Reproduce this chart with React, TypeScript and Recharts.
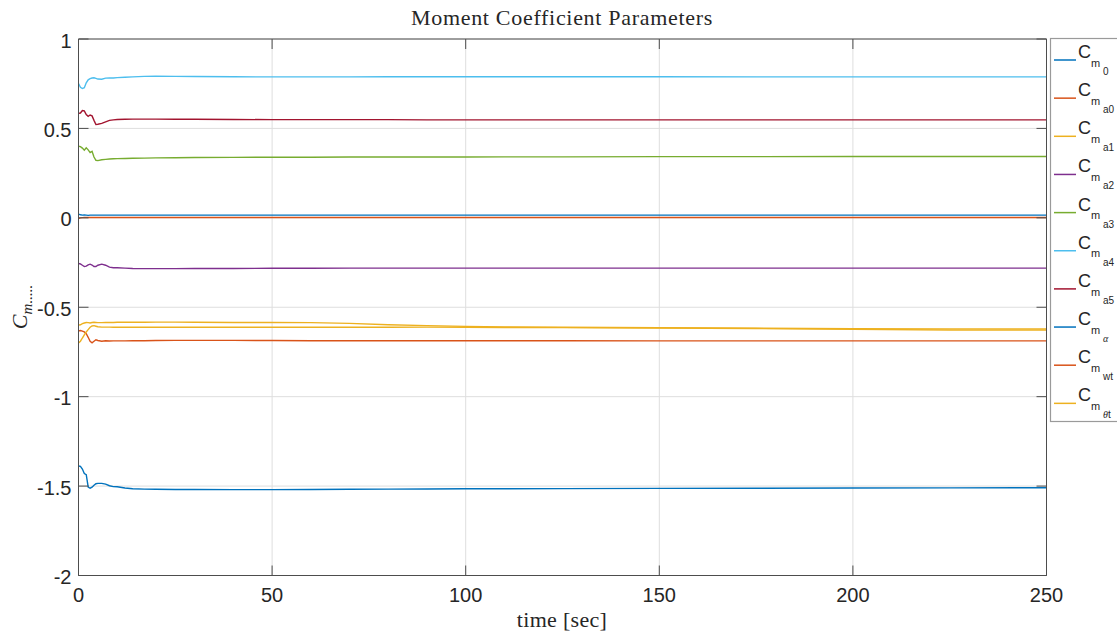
import React from 'react';
import { LineChart, Line, XAxis, YAxis, CartesianGrid } from 'recharts';

// Sample times [sec]
const time = [0, 0.5, 1, 1.5, 2, 2.5, 3, 3.5, 4, 4.5, 5, 6, 7, 8, 9, 10, 12, 14, 17, 20, 25, 30, 40, 50, 60, 70, 80, 90, 100, 110, 125, 150, 175, 200, 225, 250];

// Estimated moment coefficient parameters
const cm0 = [0.021, 0.017, 0.015, 0.016, 0.015, 0.014, 0.015, 0.015, 0.015, 0.015, 0.015, 0.015, 0.015, 0.015, 0.015, 0.015, 0.015, 0.015, 0.015, 0.015, 0.015, 0.015, 0.015, 0.015, 0.015, 0.015, 0.015, 0.015, 0.015, 0.015, 0.015, 0.015, 0.015, 0.015, 0.015, 0.015];
const cma0 = [-0.004, 0.0, 0.001, 0.002, 0.002, 0.002, 0.002, 0.002, 0.002, 0.002, 0.002, 0.002, 0.002, 0.002, 0.002, 0.002, 0.002, 0.002, 0.002, 0.002, 0.002, 0.002, 0.002, 0.002, 0.002, 0.002, 0.002, 0.002, 0.002, 0.002, 0.002, 0.002, 0.002, 0.002, 0.002, 0.002];
const cma1 = [-0.6, -0.598, -0.592, -0.588, -0.585, -0.586, -0.588, -0.585, -0.584, -0.585, -0.586, -0.586, -0.585, -0.585, -0.585, -0.584, -0.584, -0.584, -0.584, -0.583, -0.583, -0.584, -0.585, -0.585, -0.586, -0.59, -0.598, -0.603, -0.607, -0.61, -0.612, -0.615, -0.617, -0.62, -0.621, -0.622];
const cma2 = [-0.255, -0.258, -0.265, -0.272, -0.27, -0.263, -0.259, -0.264, -0.272, -0.272, -0.265, -0.259, -0.265, -0.276, -0.279, -0.279, -0.281, -0.283, -0.284, -0.284, -0.284, -0.283, -0.283, -0.282, -0.282, -0.281, -0.281, -0.281, -0.281, -0.281, -0.281, -0.281, -0.281, -0.281, -0.281, -0.281];
const cma3 = [0.4, 0.398, 0.39, 0.378, 0.392, 0.38, 0.365, 0.372, 0.34, 0.322, 0.32, 0.325, 0.327, 0.329, 0.33, 0.331, 0.332, 0.333, 0.334, 0.335, 0.336, 0.337, 0.338, 0.339, 0.339, 0.34, 0.34, 0.34, 0.34, 0.341, 0.341, 0.342, 0.342, 0.343, 0.343, 0.343];
const cma4 = [0.751, 0.73, 0.723, 0.728, 0.755, 0.772, 0.778, 0.782, 0.783, 0.78, 0.776, 0.775, 0.781, 0.782, 0.782, 0.784, 0.786, 0.788, 0.791, 0.792, 0.791, 0.79, 0.789, 0.788, 0.788, 0.788, 0.789, 0.789, 0.789, 0.789, 0.789, 0.789, 0.788, 0.788, 0.788, 0.788];
const cma5 = [0.584, 0.586, 0.6, 0.598, 0.578, 0.568, 0.575, 0.57, 0.545, 0.522, 0.523, 0.528, 0.537, 0.545, 0.548, 0.55, 0.551, 0.552, 0.552, 0.552, 0.551, 0.551, 0.55, 0.549, 0.549, 0.549, 0.549, 0.548, 0.548, 0.548, 0.548, 0.548, 0.548, 0.548, 0.548, 0.548];
const cmAlpha = [-1.388, -1.39, -1.405, -1.43, -1.436, -1.505, -1.512, -1.506, -1.495, -1.487, -1.485, -1.485, -1.489, -1.498, -1.503, -1.504, -1.511, -1.515, -1.517, -1.518, -1.519, -1.519, -1.52, -1.52, -1.519, -1.518, -1.517, -1.516, -1.515, -1.515, -1.514, -1.513, -1.512, -1.511, -1.51, -1.509];
const cmWt = [-0.632, -0.63, -0.633, -0.638, -0.648, -0.668, -0.69, -0.699, -0.69, -0.682, -0.686, -0.69, -0.687, -0.689, -0.688, -0.688, -0.688, -0.687, -0.687, -0.686, -0.685, -0.685, -0.685, -0.686, -0.687, -0.687, -0.687, -0.687, -0.687, -0.687, -0.687, -0.688, -0.688, -0.688, -0.688, -0.688];
const cmThetaT = [-0.7, -0.69, -0.672, -0.655, -0.638, -0.625, -0.612, -0.605, -0.603, -0.606, -0.609, -0.611, -0.611, -0.611, -0.612, -0.612, -0.612, -0.612, -0.612, -0.612, -0.612, -0.612, -0.612, -0.612, -0.612, -0.612, -0.612, -0.611, -0.612, -0.613, -0.614, -0.616, -0.619, -0.624, -0.627, -0.628];

const xTicks = [0, 50, 100, 150, 200, 250];
const yTicks = [-2, -1.5, -1, -0.5, 0, 0.5, 1];

const TITLE = 'Moment Coefficient Parameters';
const X_LABEL = 'time [sec]';

type Series = { key: string; values: number[]; color: string; sub: string; subItalic?: boolean };

const series: Series[] = [
  { key: 'cm0', values: cm0, color: '#0072BD', sub: '0' },
  { key: 'cma0', values: cma0, color: '#D95319', sub: 'a0' },
  { key: 'cma1', values: cma1, color: '#EDB120', sub: 'a1' },
  { key: 'cma2', values: cma2, color: '#7E2F8E', sub: 'a2' },
  { key: 'cma3', values: cma3, color: '#77AC30', sub: 'a3' },
  { key: 'cma4', values: cma4, color: '#4DBEEE', sub: 'a4' },
  { key: 'cma5', values: cma5, color: '#A2142F', sub: 'a5' },
  { key: 'cmAlpha', values: cmAlpha, color: '#0072BD', sub: 'α', subItalic: true },
  { key: 'cmWt', values: cmWt, color: '#D95319', sub: 'wt' },
  { key: 'cmThetaT', values: cmThetaT, color: '#EDB120', sub: 'θt' },
];

const data = time.map((t, i) => {
  const row: Record<string, number> = { t };
  series.forEach((s) => {
    row[s.key] = s.values[i];
  });
  return row;
});

const AXIS_COLOR = '#4d4d4d';
const TEXT_COLOR = '#262626';
const TICK_LEN = 10;
const SANS = '"Liberation Sans", Arial, Helvetica, sans-serif';
const SERIF = '"Liberation Serif", "Times New Roman", serif';

function BottomTick(props: any) {
  const { x, y, payload } = props;
  return (
    <g>
      <line x1={x} x2={x} y1={y} y2={y - TICK_LEN} stroke={AXIS_COLOR} strokeWidth={1} />
      <text x={x} y={y + 26} textAnchor="middle" fontSize={20} fill={TEXT_COLOR} fontFamily={SANS}>
        {String(payload.value)}
      </text>
    </g>
  );
}

function TopTick(props: any) {
  const { x, y } = props;
  return <line x1={x} x2={x} y1={y} y2={y + TICK_LEN} stroke={AXIS_COLOR} strokeWidth={1} />;
}

function LeftTick(props: any) {
  const { x, y, payload } = props;
  return (
    <g>
      <line x1={x} x2={x + TICK_LEN} y1={y} y2={y} stroke={AXIS_COLOR} strokeWidth={1} />
      <text x={x - 7} y={y + 8.5} textAnchor="end" fontSize={20} fill={TEXT_COLOR} fontFamily={SANS}>
        {String(payload.value)}
      </text>
    </g>
  );
}

function RightTick(props: any) {
  const { x, y } = props;
  return <line x1={x} x2={x - TICK_LEN} y1={y} y2={y} stroke={AXIS_COLOR} strokeWidth={1} />;
}

function LegendBox() {
  const rowGap = 38.15;
  const firstRow = 22;
  return (
    <svg
      width={90}
      height={390}
      style={{ position: 'absolute', left: 1050, top: 38, overflow: 'visible' }}
    >
      <rect x={0.5} y={0.5} width={88} height={383} fill="#ffffff" stroke="#9a9a9a" strokeWidth={1.2} />
      {series.map((s, i) => {
        const yc = firstRow + i * rowGap;
        return (
          <g key={s.key}>
            <line x1={4} x2={26} y1={yc} y2={yc} stroke={s.color} strokeWidth={1.5} />
            <text x={28} y={yc - 2} fontSize={18} fill={TEXT_COLOR} fontFamily={SANS}>C</text>
            <text x={41} y={yc + 6.7} fontSize={11} fill={TEXT_COLOR} fontFamily={SANS}>m</text>
            <text
              x={53}
              y={yc + 15}
              fontSize={10}
              fill={TEXT_COLOR}
              fontFamily={s.subItalic ? SERIF : SANS}
              fontStyle={s.subItalic ? 'italic' : 'normal'}
            >
              {s.sub.startsWith('θ') ? (
                <>
                  <tspan fontFamily={SERIF} fontStyle="italic">θ</tspan>
                  <tspan>{s.sub.slice(1)}</tspan>
                </>
              ) : (
                s.sub
              )}
            </text>
          </g>
        );
      })}
    </svg>
  );
}

function Labels() {
  return (
    <svg width={1117} height={635} style={{ position: 'absolute', left: 0, top: 0, pointerEvents: 'none' }}>
      <text x={562} y={25} textAnchor="middle" fontSize={22} letterSpacing={0.7} fill={TEXT_COLOR} fontFamily={SERIF}>
        {TITLE}
      </text>
      <text x={562} y={627} textAnchor="middle" fontSize={22} letterSpacing={0.3} fill={TEXT_COLOR} fontFamily={SERIF}>
        {X_LABEL}
      </text>
      <text
        x={27}
        y={307}
        transform="rotate(-90 27 307)"
        textAnchor="middle"
        fill={TEXT_COLOR}
        fontFamily={SERIF}
        fontStyle="italic"
      >
        <tspan fontSize={22}>C</tspan>
        <tspan fontSize={15} dy={5}>m.....</tspan>
      </text>
    </svg>
  );
}

export default function App() {
  return (
    <div
      style={{
        position: 'fixed',
        left: 0,
        top: 0,
        width: 1117,
        height: 635,
        overflow: 'hidden',
        background: '#ffffff',
      }}
    >
      <LineChart width={1117} height={635} data={data} margin={{ top: 29, right: 60.5, bottom: 19.5, left: 18.5 }}>
        <CartesianGrid xAxisId="bottom" yAxisId="left" stroke="#dedede" strokeWidth={1} />
        <XAxis
          xAxisId="bottom"
          dataKey="t"
          type="number"
          domain={[0, 250]}
          ticks={xTicks}
          interval={0}
          allowDataOverflow
          height={40}
          tickSize={0}
          tickMargin={0}
          tickLine={false}
          axisLine={{ stroke: AXIS_COLOR }}
          tick={<BottomTick />}
        />
        <XAxis
          xAxisId="top"
          orientation="top"
          dataKey="t"
          type="number"
          domain={[0, 250]}
          ticks={xTicks}
          interval={0}
          allowDataOverflow
          height={10}
          tickSize={0}
          tickMargin={0}
          tickLine={false}
          axisLine={{ stroke: AXIS_COLOR }}
          tick={<TopTick />}
        />
        <YAxis
          yAxisId="left"
          type="number"
          domain={[-2, 1]}
          ticks={yTicks}
          interval={0}
          allowDataOverflow
          width={60}
          tickSize={0}
          tickMargin={0}
          tickLine={false}
          axisLine={{ stroke: AXIS_COLOR }}
          tick={<LeftTick />}
        />
        <YAxis
          yAxisId="right"
          orientation="right"
          type="number"
          domain={[-2, 1]}
          ticks={yTicks}
          interval={0}
          allowDataOverflow
          width={10}
          tickSize={0}
          tickMargin={0}
          tickLine={false}
          axisLine={{ stroke: AXIS_COLOR }}
          tick={<RightTick />}
        />
        {series.map((s, i) => {
          const last = i === series.length - 1;
          return (
            <Line
              key={s.key}
              xAxisId={last ? 'top' : 'bottom'}
              yAxisId={last ? 'right' : 'left'}
              dataKey={s.key}
              type="linear"
              stroke={s.color}
              strokeWidth={1.4}
              dot={false}
              activeDot={false}
              isAnimationActive={false}
            />
          );
        })}
      </LineChart>
      <Labels />
      <LegendBox />
    </div>
  );
}
